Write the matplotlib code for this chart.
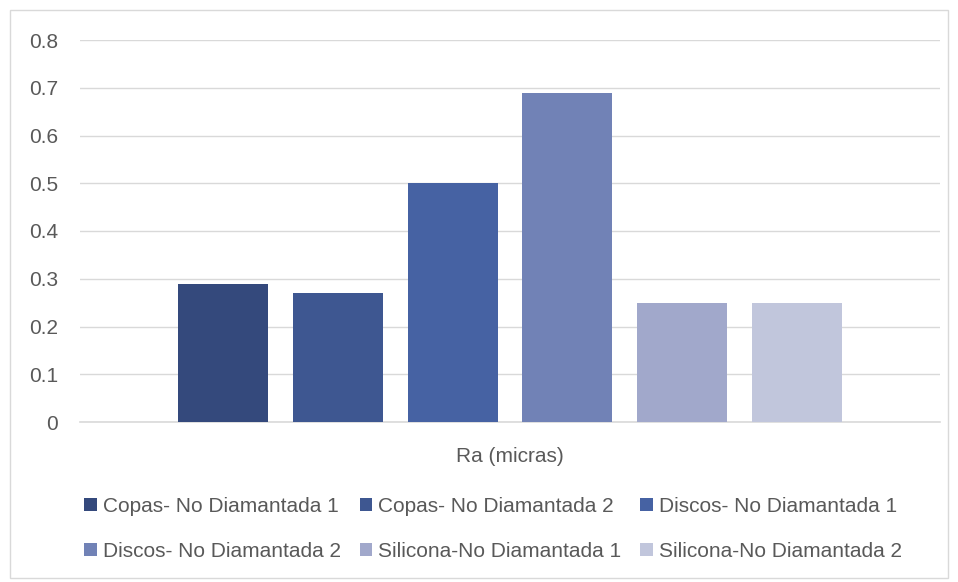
import matplotlib
matplotlib.use("Agg")
import matplotlib.pyplot as plt
from matplotlib.patches import Rectangle

plt.rcParams['font.family'] = ['Liberation Sans', 'DejaVu Sans']

series = ["Copas- No Diamantada 1", "Copas- No Diamantada 2", "Discos- No Diamantada 1",
          "Discos- No Diamantada 2", "Silicona-No Diamantada 1", "Silicona-No Diamantada 2"]
values = [0.29, 0.27, 0.50, 0.69, 0.25, 0.25]
colors = ["#34497c", "#3e5791", "#4662a3", "#7182b6", "#a1a8cb", "#c1c6dc"]
category = "Ra (micras)"
yticks = [0, 0.1, 0.2, 0.3, 0.4, 0.5, 0.6, 0.7, 0.8]

W, H = 958, 582
fig = plt.figure(figsize=(W/100, H/100), dpi=100)
fig.patches.append(Rectangle((10/W, 4/H), 938/W, 568/H, transform=fig.transFigure,
                             fill=False, edgecolor="#d9d9d9", lw=1))
ax = fig.add_axes([80/W, 1-422/H, 860/W, 382/H])
n = len(values)
handles = []
for i, (s, v, c) in enumerate(zip(series, values, colors)):
    b = ax.bar(i - (n-1)/2, v, width=0.785, color=c, label=s, zorder=3)
    handles.append(b)
ax.set_xlim(-3.75, 3.75)
ax.set_ylim(0, 0.8)
ax.set_yticks(yticks)
ax.set_yticklabels([f"{t:g}" for t in yticks], fontsize=15, color="#595959")
ax.yaxis.grid(True, color="#d9d9d9", lw=1, zorder=0)
ax.set_xticks([0])
ax.set_xticklabels([category], fontsize=15, color="#595959")
ax.tick_params(axis='both', length=0)
ax.tick_params(axis='x', pad=18)
ax.tick_params(axis='y', pad=16)
for sp in ax.spines.values():
    sp.set_visible(False)
ax.axhline(0, color="#d9d9d9", lw=1.2, zorder=2, clip_on=False)

order = [0, 3, 1, 4, 2, 5]
leg = fig.legend([handles[k] for k in order], [series[k] for k in order],
                 loc="center", bbox_to_anchor=(493/W, 1-529/H), ncol=3, frameon=False,
                 fontsize=15, handlelength=0.6, handleheight=0.6, handletextpad=0.3,
                 columnspacing=0.9, labelspacing=1.25)
for t in leg.get_texts():
    t.set_color("#595959")
fig.savefig("out.png", dpi=100)
